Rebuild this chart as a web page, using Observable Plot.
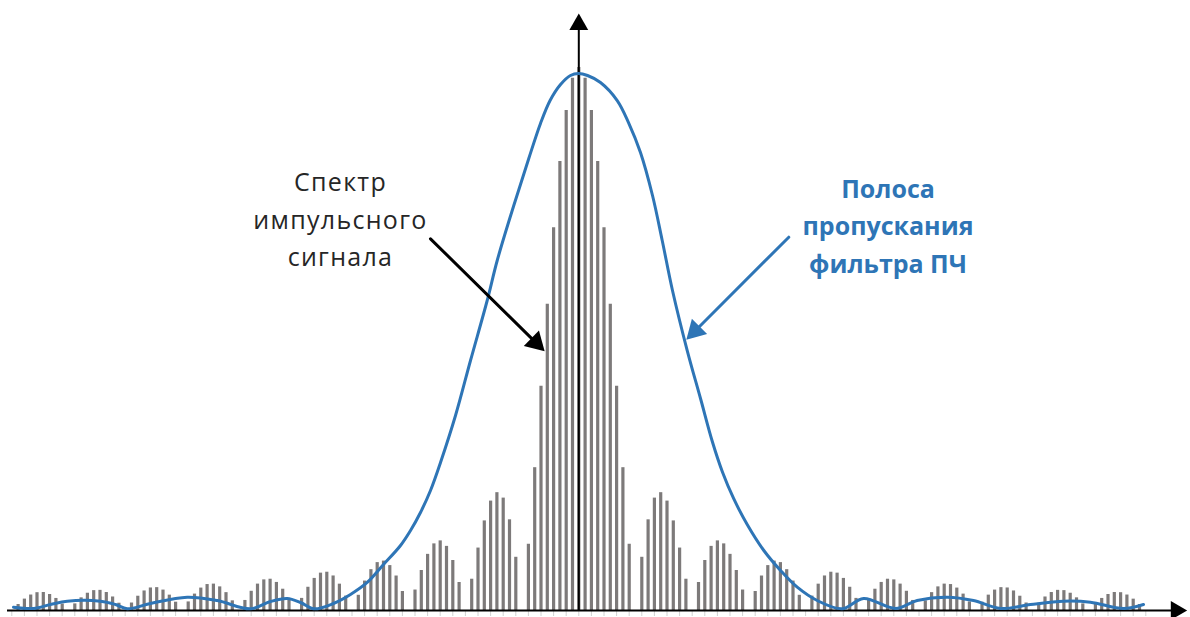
<!DOCTYPE html>
<html><head><meta charset="utf-8">
<script src="https://cdn.jsdelivr.net/npm/d3@7"></script>
<script src="https://cdn.jsdelivr.net/npm/@observablehq/plot@0.6"></script>
<style>
html,body{margin:0;padding:0;background:#fff;}
#chart{width:1190px;height:617px;overflow:hidden;}
</style>
</head><body><div id="chart"></div>
<script>
// Spectral line index (harmonic number) relative to carrier
const leftIdx = [-90,-89,-88,-87,-86,-85,-84,-83,-82,-81,-80,-79,-78,-77,-76,-75,-74,-73,-72,-71,-70,-69,-68,-67,-66,-65,-64,-63,-62,-61,-60,-59,-58,-57,-56,-55,-54,-53,-52,-51,-50,-49,-48,-47,-46,-45,-44,-43,-42,-41,-40,-39,-38,-37,-36,-35,-34,-33,-32,-31,-30,-29,-28,-27,-26,-25,-24,-23,-22,-21,-20,-19,-18,-17,-16,-15,-14,-13,-12,-11,-10,-9,-8,-7,-6,-5,-4,-3,-2,-1];
const leftAmp = [0,0.011,0.021,0.0285,0.0328,0.0332,0.0295,0.0222,0.0119,0,0.0122,0.0233,0.0318,0.0366,0.0371,0.0331,0.0249,0.0134,0,0.0138,0.0263,0.036,0.0415,0.0421,0.0376,0.0283,0.0153,0,0.0158,0.0302,0.0413,0.0478,0.0486,0.0435,0.0329,0.0178,0,0.0185,0.0354,0.0486,0.0564,0.0576,0.0517,0.0392,0.0213,0,0.0223,0.0428,0.0591,0.0688,0.0705,0.0636,0.0485,0.0265,0,0.028,0.0542,0.0752,0.0882,0.091,0.0827,0.0635,0.035,0,0.0377,0.0737,0.1034,0.1227,0.1282,0.1181,0.0921,0.0516,0,0.0576,0.115,0.165,0.2015,0.217,0.207,0.167,0.098,0,0.122,0.263,0.413,0.564,0.705,0.827,0.921,0.98];
const rightIdx = [0,1,2,3,4,5,6,7,8,9,10,11,12,13,14,15,16,17,18,19,20,21,22,23,24,25,26,27,28,29,30,31,32,33,34,35,36,37,38,39,40,41,42,43,44,45,46,47,48,49,50,51,52,53,54,55,56,57,58,59,60,61,62,63,64,65,66,67,68,69,70,71,72,73,74,75,76,77,78,79,80,81,82,83,84,85,86,87,88,89,90];
const rightAmp = [1,0.98,0.921,0.827,0.705,0.564,0.413,0.263,0.122,0,0.098,0.167,0.207,0.217,0.2015,0.165,0.115,0.0576,0,0.0516,0.0921,0.1181,0.1282,0.1227,0.1034,0.0737,0.0377,0,0.035,0.0635,0.0827,0.091,0.0882,0.0752,0.0542,0.028,0,0.0265,0.0485,0.0636,0.0705,0.0688,0.0591,0.0428,0.0223,0,0.0213,0.0392,0.0517,0.0576,0.0564,0.0486,0.0354,0.0185,0,0.0178,0.0329,0.0435,0.0486,0.0478,0.0413,0.0302,0.0158,0,0.0153,0.0283,0.0376,0.0421,0.0415,0.036,0.0263,0.0138,0,0.0134,0.0249,0.0331,0.0371,0.0366,0.0318,0.0233,0.0122,0,0.0119,0.0222,0.0295,0.0332,0.0328,0.0285,0.0209,0.011,0];

const filterK = [-89.73,-86.56,-83.86,-81.21,-75.92,-73.54,-71.68,-68.0,-62.16,-57.4,-52.11,-48.94,-46.29,-44.17,-42.06,-38.94,-36.24,-33.59,-31.0,-28.3,-26.71,-25.13,-23.54,-21.95,-19.57,-17.19,-14.54,-12.95,-10.32,-7.94,-6.08,-4.56,-2.9,-1.32,-0.05,1.38,3.44,6.1,7.89,9.79,11.7,13.24,14.87,17.21,19.32,21.24,22.83,24.57,26.73,29.37,32.02,34.67,37.84,41.81,45.19,50.27,53.71,58.48,62.65,66.94,71.7,76.94,81.22,86.46,89.63];
const filterAmp = [0.0061,0.0037,0.011,0.0171,0.0171,0.011,0.0031,0.0129,0.0245,0.0184,0.0031,0.0166,0.0221,0.0147,0.0031,0.0129,0.0295,0.0516,0.0847,0.1197,0.1473,0.1805,0.221,0.2726,0.3591,0.4604,0.5709,0.6446,0.7459,0.8324,0.8969,0.9392,0.9687,0.9853,0.989,0.9853,0.9724,0.9392,0.8987,0.8435,0.7643,0.6814,0.5893,0.4788,0.3904,0.3094,0.2542,0.2063,0.1584,0.1105,0.0737,0.0429,0.0184,0.0031,0.0221,0.0037,0.0184,0.0245,0.0184,0.0037,0.011,0.0171,0.0153,0.0037,0.011];

// tick labels (unlabelled ticks every second line)
const tickIdx = [-90,-88,-86,-84,-82,-80,-78,-76,-74,-72,-70,-68,-66,-64,-62,-60,-58,-56,-54,-52,-50,-48,-46,-44,-42,-40,-38,-36,-34,-32,-30,-28,-26,-24,-22,-20,-18,-16,-14,-12,-10,-8,-6,-4,-2,0,2,4,6,8,10,12,14,16,18,20,22,24,26,28,30,32,34,36,38,40,42,44,46,48,50,52,54,56,58,60,62,64,66,68,70,72,74,76,78,80,82,84,86,88,90];

// annotations
const labelSpectrum = "Спектр\nимпульсного\nсигнала";
const labelFilter = "Полоса\nпропускания\nфильтра ПЧ";
const arrowSpectrum = {x1: -23.54, y1: 0.6845, x2: -5.016, y2: 0.4727};
const arrowFilter = {x1: 33.33, y1: 0.6875, x2: 16.67, y2: 0.4941};
const axisXFrom = -90.68, axisXTip = 97.06, axisYTip = 1.105;

// ---- build
const W = 1190, H = 617, MB = 7;
const xDomain = [-91.794, 97.095], yDomain = [0, 1.12339];
const px = d3.scaleLinear().domain(xDomain).range([0, W]);
const py = d3.scaleLinear().domain(yDomain).range([H - MB, 0]);

const spectrum = leftIdx.map((k, i) => ({k, a: leftAmp[i]}))
  .concat(rightIdx.map((k, i) => ({k, a: rightAmp[i]})));
const filter = filterK.map((k, i) => ({k, a: filterAmp[i]}));

function head(x1, y1, x2, y2, L, color) {
  const sx = px(x1), sy = py(y1), tx = px(x2), ty = py(y2);
  const len = Math.hypot(tx - sx, ty - sy);
  const ux = (tx - sx) / len, uy = (ty - sy) / len;
  const rot = Math.atan2(ux, -uy) * 180 / Math.PI;
  const size = Math.sqrt(3) * L * L / 3;
  const r = Math.sqrt(size / Math.PI);
  return Plot.dot([{k: x2, a: y2}], {
    x: "k", y: "a", symbol: "triangle2", r, rotate: rot,
    fill: color, stroke: "none",
    dx: -ux * 2 * L / 3, dy: -uy * 2 * L / 3
  });
}

const chart = Plot.plot({
  width: W, height: H,
  marginLeft: 0, marginRight: 0, marginTop: 0, marginBottom: MB,
  x: {domain: xDomain, axis: null},
  y: {domain: yDomain, axis: null},
  style: {background: "#fff", overflow: "visible"},
  marks: [
    Plot.axisX(tickIdx, {anchor: "bottom", tickSize: 6, tickPadding: 0, tickFormat: () => "", stroke: "#d2d2d2", strokeWidth: 1}),
    Plot.ruleX(spectrum.filter(d => d.a > 0), {x: "k", y1: 0, y2: "a", stroke: "#7d7a7a", strokeWidth: 3.2}),
    Plot.ruleY([0], {x1: axisXFrom, x2: axisXTip - 2.5, stroke: "#000", strokeWidth: 2}),
    head(axisXFrom, 0, axisXTip, 0, 21, "#000"),
    Plot.ruleX([0], {y1: 0, y2: axisYTip - 0.03, stroke: "#000", strokeWidth: 2}),
    head(0, 0, 0, axisYTip, 21, "#000"),
    Plot.line(filter, {x: "k", y: "a", stroke: "#2e75b6", strokeWidth: 3, curve: "catmull-rom"}),
    Plot.arrow([arrowSpectrum], {x1: "x1", y1: "y1", x2: "x2", y2: "y2", headLength: 0, insetEnd: 12, stroke: "#000", strokeWidth: 3}),
    head(arrowSpectrum.x1, arrowSpectrum.y1, arrowSpectrum.x2, arrowSpectrum.y2, 24, "#000"),
    Plot.arrow([arrowFilter], {x1: "x1", y1: "y1", x2: "x2", y2: "y2", headLength: 0, insetEnd: 12, stroke: "#2e75b6", strokeWidth: 3}),
    head(arrowFilter.x1, arrowFilter.y1, arrowFilter.x2, arrowFilter.y2, 24, "#2e75b6"),
    Plot.text([labelSpectrum], {x: -37.83, y: 0.7247, text: d => d, textAnchor: "middle", lineAnchor: "middle", lineHeight: 1.5, fontSize: 25, fontFamily: "Open Sans", fill: "#262626"}),
    Plot.text([labelFilter], {x: 49.08, y: 0.7136, text: d => d, textAnchor: "middle", lineAnchor: "middle", lineHeight: 1.5, fontSize: 25, fontWeight: "bold", fontFamily: "Open Sans", fill: "#2e75b6"})
  ]
});
const textGroups = chart.querySelectorAll("g[aria-label='text']");
if (textGroups.length) textGroups[0].style.letterSpacing = "1.3px";
document.getElementById("chart").appendChild(chart);
</script>
</body></html>
